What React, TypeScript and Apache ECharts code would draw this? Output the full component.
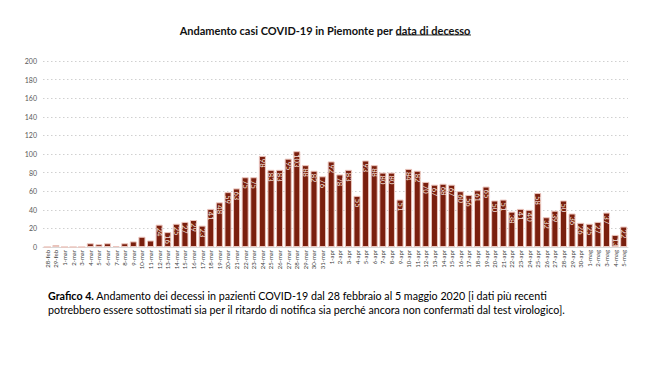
import React, { useEffect, useRef } from "react";
import * as echarts from "echarts";

const categories: string[] = [
  "28-feb", "29-feb",
  "1-mar", "2-mar", "3-mar", "4-mar", "5-mar", "6-mar", "7-mar", "8-mar", "9-mar", "10-mar",
  "11-mar", "12-mar", "13-mar", "14-mar", "15-mar", "16-mar", "17-mar", "18-mar", "19-mar", "20-mar",
  "21-mar", "22-mar", "23-mar", "24-mar", "25-mar", "26-mar", "27-mar", "28-mar", "29-mar", "30-mar", "31-mar",
  "1-apr", "2-apr", "3-apr", "4-apr", "5-apr", "6-apr", "7-apr", "8-apr", "9-apr", "10-apr",
  "11-apr", "12-apr", "13-apr", "14-apr", "15-apr", "16-apr", "17-apr", "18-apr", "19-apr", "20-apr",
  "21-apr", "22-apr", "23-apr", "24-apr", "25-apr", "26-apr", "27-apr", "28-apr", "29-apr", "30-apr",
  "1-mag", "2-mag", "3-mag", "4-mag", "5-mag",
];

const deaths: number[] = [
  0, 2,
  0, 0, 0, 4, 3, 4, 1, 4, 6, 11,
  7, 24, 16, 25, 27, 29, 23, 41, 48, 59,
  63, 75, 75, 98, 83, 83, 95, 103, 88, 82, 76,
  92, 78, 83, 55, 93, 88, 80, 80, 51, 84,
  82, 70, 67, 68, 67, 60, 56, 61, 65, 50,
  51, 38, 41, 40, 58, 32, 39, 50, 36, 26,
  25, 27, 37, 13, 22,
];

const yTicks = { min: 0, max: 200, interval: 20 };

const titleMain = "Andamento casi COVID-19 in Piemonte per ";
const titleUnderlined = "data di decesso";
const captionBold = "Grafico 4.";
const captionLine1 = " Andamento dei decessi in pazienti COVID-19 dal 28 febbraio al 5 maggio 2020 [i dati più recenti";
const captionLine2 = "potrebbero essere sottostimati sia per il ritardo di notifica sia perché ancora non confermati dal test virologico].";

const FONT = "Lato, 'Noto Sans', sans-serif";

export default function App() {
  const ref = useRef<HTMLDivElement>(null);

  useEffect(() => {
    if (!ref.current) return;
    const chart = echarts.init(ref.current, undefined, { renderer: "svg" });
    chart.setOption({
      animation: false,
      backgroundColor: "#ffffff",
      textStyle: { fontFamily: FONT },
      title: {
        text: `{a|${titleMain}}{u|${titleUnderlined}}`,
        left: "center",
        top: 20,
        textStyle: {
          rich: {
            a: { fontFamily: FONT, fontWeight: "bold", fontSize: 11, color: "#111111" },
            u: { fontFamily: FONT, fontWeight: "bold", fontSize: 11, color: "#111111" },
          },
        },
      },
      graphic: [
        {
          type: "line",
          shape: { x1: 396, y1: 35, x2: 471, y2: 35 },
          style: { stroke: "#333333", lineWidth: 1 },
        },
        {
          type: "text",
          left: 48,
          top: 290,
          style: {
            text: `{b|${captionBold}}{n|${captionLine1}}\n{n|${captionLine2}}`,
            rich: {
              b: { fontFamily: FONT, fontWeight: "bold", fontSize: 10.7, color: "#111111", lineHeight: 14 },
              n: { fontFamily: FONT, fontSize: 10.7, color: "#111111", lineHeight: 14 },
            },
          },
        },
      ],
      grid: { left: 43, right: 22, top: 61, bottom: 119, containLabel: false },
      xAxis: {
        type: "category",
        data: categories,
        axisLine: { lineStyle: { color: "#d9d9d9", width: 1 } },
        axisTick: { show: false },
        axisLabel: {
          interval: 0,
          rotate: 90,
          fontSize: 6,
          color: "#404040",
          margin: 3,
          fontFamily: FONT,
        },
      },
      yAxis: {
        type: "value",
        min: yTicks.min,
        max: yTicks.max,
        interval: yTicks.interval,
        axisLine: { show: false },
        axisTick: { show: false },
        axisLabel: { fontSize: 7, color: "#595959", margin: 6, fontFamily: FONT },
        splitLine: { lineStyle: { color: "#d0d0d0", type: [1.5, 2.5], width: 1 } },
      },
      series: [
        {
          type: "bar",
          data: deaths,
          barCategoryGap: "18%",
          itemStyle: { color: "#7a1f0e", borderColor: "#ecc6be", borderWidth: 1 },
          label: {
            show: true,
            position: "insideTop",
            rotate: -90,
            align: "left",
            verticalAlign: "middle",
            distance: 3,
            fontSize: 7.5,
            color: "#f5e2dc",
            fontFamily: FONT,
            formatter: (p: any) => (p.value >= 12 ? String(p.value) : ""),
          },
        },
      ],
    });
    return () => chart.dispose();
  }, []);

  return (
    <div
      ref={ref}
      style={{ position: "fixed", left: 0, top: 0, width: 650, height: 366 }}
    />
  );
}
